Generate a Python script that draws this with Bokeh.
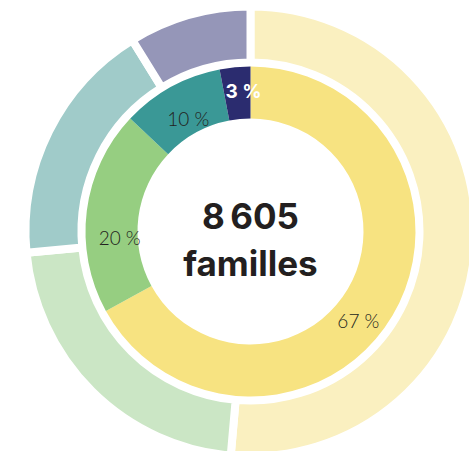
import math
from bokeh.plotting import figure
from bokeh.models import Range1d
from bokeh.core.properties import value
from bokeh.embed import file_html
from bokeh.resources import INLINE

# Data
categories = ["A", "B", "C", "D"]
inner_values = [67, 20, 10, 3]
inner_labels = ["67 %", "20 %", "10 %", "3 %"]
outer_values = [51.4, 22.1, 17.7, 8.8]
total_label = "8\u2009605"
total_unit = "familles"

inner_colors = ["#F7E381", "#96CE81", "#3A9896", "#2B2C6F"]
outer_colors = ["#FAF0C0", "#CBE6C5", "#A0CBC9", "#9596B8"]
label_colors = ["#231F20", "#231F20", "#231F20", "#FFFFFF"]
label_styles = ["normal", "normal", "normal", "bold"]
label_fonts = ["Lato Light", "Lato Light", "Lato Light", "Inter"]
label_nudge_deg = [9, -10, 0, 2.5]
label_radius = [140, 131, 129, 140]

W, H = 469, 451
cx, cy = 250, 231

p = figure(width=W, height=H, output_backend="svg", toolbar_location=None,
           x_range=Range1d(-cx, W - cx), y_range=Range1d(-(H - cy), cy),
           min_border=0)
p.axis.visible = False
p.grid.visible = False
p.outline_line_color = None
p.background_fill_color = "white"


def wedges(values):
    tot = float(sum(values))
    starts, ends, mids = [], [], []
    acc = 0.0
    for v in values:
        a0 = acc / tot * 2 * math.pi
        acc += v
        a1 = acc / tot * 2 * math.pi
        starts.append(math.pi / 2 - a0)
        ends.append(math.pi / 2 - a1)
        mids.append((a0 + a1) / 2)
    return starts, ends, mids


os_, oe_, _ = wedges(outer_values)
p.annular_wedge(x=0, y=0, inner_radius=169, outer_radius=225,
                start_angle=os_, end_angle=oe_, direction="clock",
                fill_color=outer_colors, line_color="white", line_width=8)

is_, ie_, im_ = wedges(inner_values)
p.annular_wedge(x=0, y=0, inner_radius=113, outer_radius=165,
                start_angle=is_, end_angle=ie_, direction="clock",
                fill_color=inner_colors, line_color=None)

lx, ly = [], []
for m, n, r in zip(im_, label_nudge_deg, label_radius):
    a = m + math.radians(n)
    lx.append(r * math.sin(a))
    ly.append(r * math.cos(a))

for i in range(len(inner_labels)):
    p.text(x=[lx[i]], y=[ly[i]], text=[inner_labels[i]], text_color=label_colors[i],
           text_font_style=label_styles[i], text_font=value(label_fonts[i]),
           text_font_size="19px", text_align="center", text_baseline="middle")

p.text(x=[0], y=[16], text=[total_label], text_font=value("Inter"),
       text_font_style="bold", text_font_size="35px", text_color="#231F20",
       text_align="center", text_baseline="middle")
p.text(x=[0], y=[-31], text=[total_unit], text_font=value("Inter"),
       text_font_style="bold", text_font_size="35px", text_color="#231F20",
       text_align="center", text_baseline="middle")

open("out.html", "w").write(file_html(p, INLINE))
